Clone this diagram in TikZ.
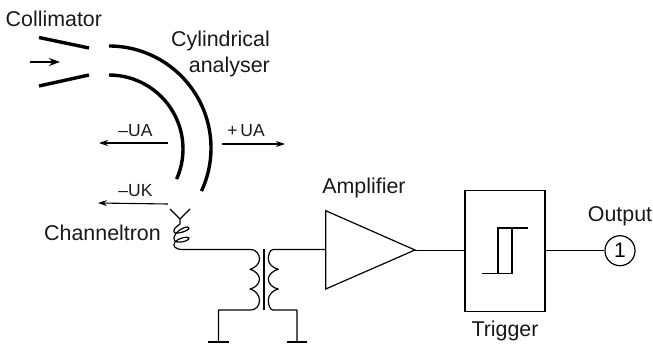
\documentclass[tikz,border=0pt]{standalone}
\usepackage{fontspec}
\setmainfont{Liberation Sans}
\usetikzlibrary{arrows.meta}
\begin{document}
\begin{tikzpicture}[x=1pt,y=-1pt,
  wire/.style={line width=1.2pt,line join=round},
  plate/.style={line width=3.4pt},
  pointer/.style={line width=1.1pt,-{Stealth[length=9pt,width=6pt]}},
  lab/.style={font=\fontsize{21.4}{23}\selectfont,inner sep=0pt,text=black!90},
  sublab/.style={font=\fontsize{17.5}{19}\selectfont,inner sep=0pt,text=black!90},
  block/.style={draw,line width=1.2pt,inner sep=0pt}]
\useasboundingbox (0,0) rectangle (653,345);
% collimator
\draw[plate] (39,37.5) -- (89,48);
\draw[plate] (39,86) -- (89,75);
\draw[line width=1.2pt,-{Stealth[length=11pt,width=8pt]}] (30,62) -- (60,62);
% analyser
\draw[plate] (109,46) arc[start angle=90,end angle=-25,radius=102pt];
\draw[plate] (109,75) arc[start angle=90,end angle=-24,radius=74pt];
% labels
\node[lab,anchor=west] (coll) at (5.5,19) {Collimator};
\node[lab,anchor=east] (cyl) at (270,41) {Cylindrical};
\node[lab,anchor=east] (ana) at (270,66.5) {analyser};
\node[sublab] (mua) at (135.5,131) {–UA};
\node[sublab] (pua) at (246,130.5) {+\,UA};
\node[sublab] (muk) at (135.5,191) {–UK};
\node[lab,anchor=east] (chan) at (161,232.5) {Channeltron};
\node[lab] (ampl) at (364,187.5) {Amplifier};
\node[lab] (trig) at (505,331) {Trigger};
\node[lab] (outl) at (620,216) {Output};
% field arrows
\coordinate (a1) at (168,143); \coordinate (a2) at (99,143);
\coordinate (b1) at (222,144); \coordinate (b2) at (285,144);
\coordinate (c1) at (168,204); \coordinate (c2) at (98,203);
\draw[pointer] (a1) -- (a2);
\draw[pointer] (b1) -- (b2);
\draw[pointer] (c1) -- (c2);
% channeltron
\coordinate (cout) at (183,249.5);
\draw[wire] (170,209) -- (180,219) -- (190,209);
\draw[wire] (180,219) -- (180,224)
  .. controls (176,227) and (173,229) .. (174,232)
  .. controls (175,235) and (189,231) .. (189,228)
  .. controls (189,225) and (178,229) .. (175,235)
  .. controls (173,239) and (174,241) .. (177,242)
  .. controls (182,243) and (190,240) .. (189,238)
  .. controls (188,236) and (178,238) .. (175,242)
  .. controls (172,246) and (175,249.5) .. (cout);
% transformer
\coordinate (p1) at (250,249.5);
\coordinate (p2) at (250,310);
\coordinate (s1) at (273,249.5);
\coordinate (s2) at (273,310);
\draw[wire] (cout) -- (p1)
  .. controls (257,249.5) and (259.5,255) .. (259.5,259)
  .. controls (259.5,264) and (255,268) .. (250,269.3)
  .. controls (255,270.5) and (259.5,275) .. (259.5,279)
  .. controls (259.5,284) and (255,288) .. (250,289)
  .. controls (255,290) and (259.5,295) .. (259.5,300)
  .. controls (259.5,305) and (257,310) .. (p2) -- (218.5,310) -- (218.5,342);
\draw[wire] (264,249) -- (264,310);
\coordinate (amin) at (325.7,249.5);
\draw[wire] (amin) -- (s1)
  .. controls (270,249.5) and (268.3,255) .. (268.3,259)
  .. controls (268.3,264) and (273,268) .. (278.3,269.3)
  .. controls (273,270.5) and (268.3,275) .. (268.3,279)
  .. controls (268.3,284) and (273,288) .. (278.3,289)
  .. controls (273,290) and (268.3,295) .. (268.3,300)
  .. controls (268.3,305) and (270,310) .. (s2) -- (297,310) -- (297,342);
\draw[line width=2.6pt] (208,342) -- (229,342);
\draw[line width=2.6pt] (287,342) -- (307,342);
% amplifier
\draw[block,line join=miter] (325.7,210.7) -- (415,250) -- (325.7,289) -- cycle;
\coordinate (atip) at (415,250.5);
% trigger
\node[block,minimum width=80pt,minimum height=121pt] (tbox) at (505,251) {};
\draw[wire] (tbox.west |- atip) -- (atip);
\draw[line width=1.2pt] (482,273.5) -- (512,273.5) -- (512,228) -- (528,228);
\draw[line width=1.2pt] (498,273.5) -- (498,228) -- (512,228);
% output
\node[draw,circle,line width=1.2pt,minimum size=30pt,inner sep=0pt,font=\fontsize{21}{22}\selectfont] (one) at (620,250.7) {1};
\draw[wire] (tbox.east |- one) -- (one);
\end{tikzpicture}
\end{document}
